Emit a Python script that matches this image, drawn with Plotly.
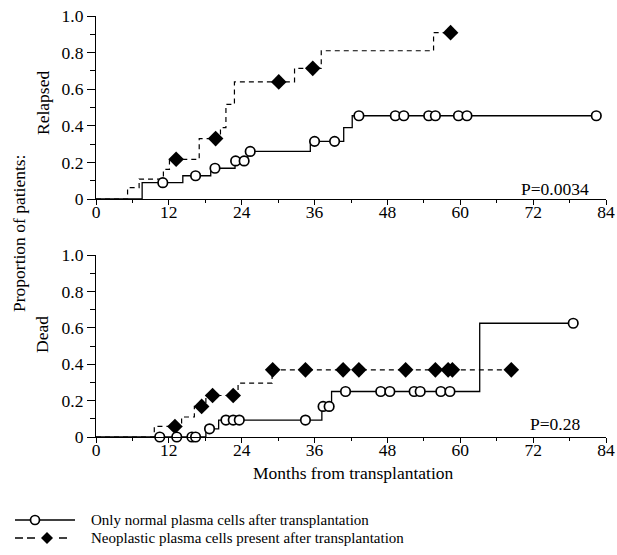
import plotly.graph_objects as go

# ---------------- data (months, cumulative proportion) ----------------
# Relapse panel
relapse_normal_t = [7.6, 14.3, 18.9, 22.9, 25.0, 35.3, 40.8, 42.2]
relapse_normal_p = [0.089, 0.127, 0.168, 0.208, 0.26, 0.315, 0.39, 0.455]
relapse_normal_cens = [11.0, 16.4, 19.6, 23.0, 24.4, 25.4, 36.0, 39.3, 43.3,
                       49.3, 50.7, 54.8, 55.9, 59.7, 61.1, 82.4]

relapse_neo_t = [5.2, 7.1, 11.1, 12.1, 17.0, 20.5, 21.4, 22.8, 32.7, 37.1, 55.6]
relapse_neo_p = [0.062, 0.109, 0.162, 0.217, 0.33, 0.39, 0.517, 0.64, 0.714, 0.81, 0.909]
relapse_neo_cens = [13.2, 19.7, 30.1, 35.7, 58.4]

# Death panel
dead_normal_t = [18.1, 20.2, 37.2, 38.8, 63.2]
dead_normal_p = [0.045, 0.093, 0.168, 0.25, 0.625]
dead_normal_cens = [10.5, 13.3, 15.8, 16.4, 18.7, 21.4, 22.6, 23.6, 34.5, 37.4,
                    38.4, 41.1, 46.9, 48.4, 52.4, 53.4, 56.8, 58.3, 78.6]

dead_neo_t = [9.6, 14.1, 16.2, 18.1, 23.4, 29.0]
dead_neo_p = [0.058, 0.11, 0.168, 0.228, 0.296, 0.369]
dead_neo_cens = [13.0, 17.4, 19.2, 22.6, 29.1, 34.5, 40.7, 43.3, 51.0, 55.9, 58.0, 58.7, 68.4]

x_ticks = [0, 12, 24, 36, 48, 60, 72, 84]
y_ticks = [0, 0.2, 0.4, 0.6, 0.8, 1.0]
y_ticktext = ["0", "0.2", "0.4", "0.6", "0.8", "1.0"]

p_relapse = "P=0.0034"
p_dead = "P=0.28"
name_normal = "Only normal plasma cells after transplantation"
name_neo = "Neoplastic plasma cells present after transplantation"

# ---------------- layout geometry (page pixels) ----------------
W, H = 617, 555
LEFT, RIGHT, TOP, BOTTOM = 96, 606, 16, 437
ML, MR, MT, MB = LEFT, W - RIGHT, TOP, H - BOTTOM
PW, PH = W - ML - MR, H - MT - MB
FONT = "Liberation Serif"


def px_x(px):
    return (px - ML) / PW


def px_y(py):
    return (H - MB - py) / PH


def step_line(t, p, end):
    return [0] + list(t) + [end], [0] + list(p) + [p[-1]]


def step_value(t, p, x):
    v = 0
    for ti, pi in zip(t, p):
        if ti <= x:
            v = pi
    return v


fig = go.Figure()

panels = [
    ("x", "y", relapse_normal_t, relapse_normal_p, relapse_normal_cens,
     relapse_neo_t, relapse_neo_p, relapse_neo_cens),
    ("x2", "y2", dead_normal_t, dead_normal_p, dead_normal_cens,
     dead_neo_t, dead_neo_p, dead_neo_cens),
]

for xa, ya, nt, npv, nc, dt, dp, dc in panels:
    lx, ly = step_line(dt, dp, max(dc))
    fig.add_trace(go.Scatter(x=lx, y=ly, xaxis=xa, yaxis=ya, mode="lines",
                             line=dict(color="black", width=1.2, shape="hv", dash="5px,4px"),
                             showlegend=False, hoverinfo="skip"))
    lx, ly = step_line(nt, npv, max(nc))
    fig.add_trace(go.Scatter(x=lx, y=ly, xaxis=xa, yaxis=ya, mode="lines",
                             line=dict(color="black", width=1.3, shape="hv"),
                             showlegend=False, hoverinfo="skip"))
    fig.add_trace(go.Scatter(x=dc, y=[step_value(dt, dp, c) for c in dc],
                             xaxis=xa, yaxis=ya, mode="markers", cliponaxis=False,
                             marker=dict(symbol="diamond", size=12, color="black",
                                         line=dict(width=0)),
                             showlegend=False))
    fig.add_trace(go.Scatter(x=nc, y=[step_value(nt, npv, c) for c in nc],
                             xaxis=xa, yaxis=ya, mode="markers", cliponaxis=False,
                             marker=dict(symbol="circle", size=9.5, color="white",
                                         line=dict(width=1.7, color="black")),
                             showlegend=False))

axis_common = dict(showline=True, linecolor="black", linewidth=1.2, showgrid=False,
                   zeroline=False, mirror=False, ticks="outside", tickcolor="black",
                   tickwidth=1, automargin=False,
                   tickfont=dict(family=FONT, size=17.5, color="black"))

xaxis_cfg = dict(axis_common, range=[0, 84], tickvals=x_ticks, ticklen=5,
                 ticklabelstandoff=-8,
                 minor=dict(dtick=6, tick0=0, ticklen=3, ticks="outside",
                            tickcolor="black", tickwidth=1, showgrid=False))
yaxis_cfg = dict(axis_common, range=[0, 1.0], tickvals=y_ticks, ticktext=y_ticktext,
                 ticklen=8,
                 minor=dict(dtick=0.1, tick0=0, ticklen=5, ticks="outside",
                            tickcolor="black", tickwidth=1, showgrid=False))

top_dom = [px_y(199), 1.0]
bot_dom = [0.0, px_y(255)]

fig.update_layout(
    width=W, height=H,
    margin=dict(l=ML, r=MR, t=MT, b=MB),
    paper_bgcolor="white", plot_bgcolor="white",
    font=dict(family=FONT, color="black"),
    xaxis=dict(xaxis_cfg, domain=[0, 1], anchor="y"),
    yaxis=dict(yaxis_cfg, domain=top_dom, anchor="x"),
    xaxis2=dict(xaxis_cfg, domain=[0, 1], anchor="y2"),
    yaxis2=dict(yaxis_cfg, domain=bot_dom, anchor="x2"),
    showlegend=False,
)

ann = []


def add_text(text, x, y, size=17.5, angle=0, xanchor="center", yanchor="middle"):
    ann.append(dict(text=text, x=px_x(x), y=px_y(y), xref="paper", yref="paper",
                    showarrow=False, textangle=angle, xanchor=xanchor, yanchor=yanchor,
                    font=dict(family=FONT, size=size, color="black")))


add_text(p_relapse, 591, 188.5, xanchor="right")
add_text(p_dead, 582, 423.5, xanchor="right")
add_text("Relapsed", 42.5, 103.5, angle=-90)
add_text("Dead", 42, 335, angle=-90)
add_text("Proportion of patients:", 19, 234, angle=-90)
add_text("Months from transplantation", 353, 473)
add_text(name_normal, 89, 520, size=15, xanchor="left")
add_text(name_neo, 89, 538, size=15, xanchor="left")
fig.update_layout(annotations=ann)

# legend key (decorative, drawn in paper space)
shapes = [dict(type="line", xref="paper", yref="paper",
               x0=px_x(15), x1=px_x(75), y0=px_y(520), y1=px_y(520),
               line=dict(color="black", width=1.5))]
for a, b in [(15, 23), (27, 35), (59, 67)]:
    shapes.append(dict(type="line", xref="paper", yref="paper",
                       x0=px_x(a), x1=px_x(b), y0=px_y(538), y1=px_y(538),
                       line=dict(color="black", width=1.5)))
r = 4.5
cx1, cy1 = 35, 520
shapes.append(dict(type="circle", xref="paper", yref="paper",
                   x0=px_x(cx1 - r), x1=px_x(cx1 + r), y0=px_y(cy1 + r), y1=px_y(cy1 - r),
                   fillcolor="white", line=dict(color="black", width=1.7)))
d = 6
cx, cy = 47, 538
path = "M {} {} L {} {} L {} {} L {} {} Z".format(
    px_x(cx - d), px_y(cy), px_x(cx), px_y(cy - d),
    px_x(cx + d), px_y(cy), px_x(cx), px_y(cy + d))
shapes.append(dict(type="path", xref="paper", yref="paper", path=path,
                   fillcolor="black", line=dict(color="black", width=0)))
fig.update_layout(shapes=shapes)

fig.write_html("out.html",
               config={"displayModeBar": False},
               post_script="document.body.style.margin='0';document.body.style.overflow='hidden';")
